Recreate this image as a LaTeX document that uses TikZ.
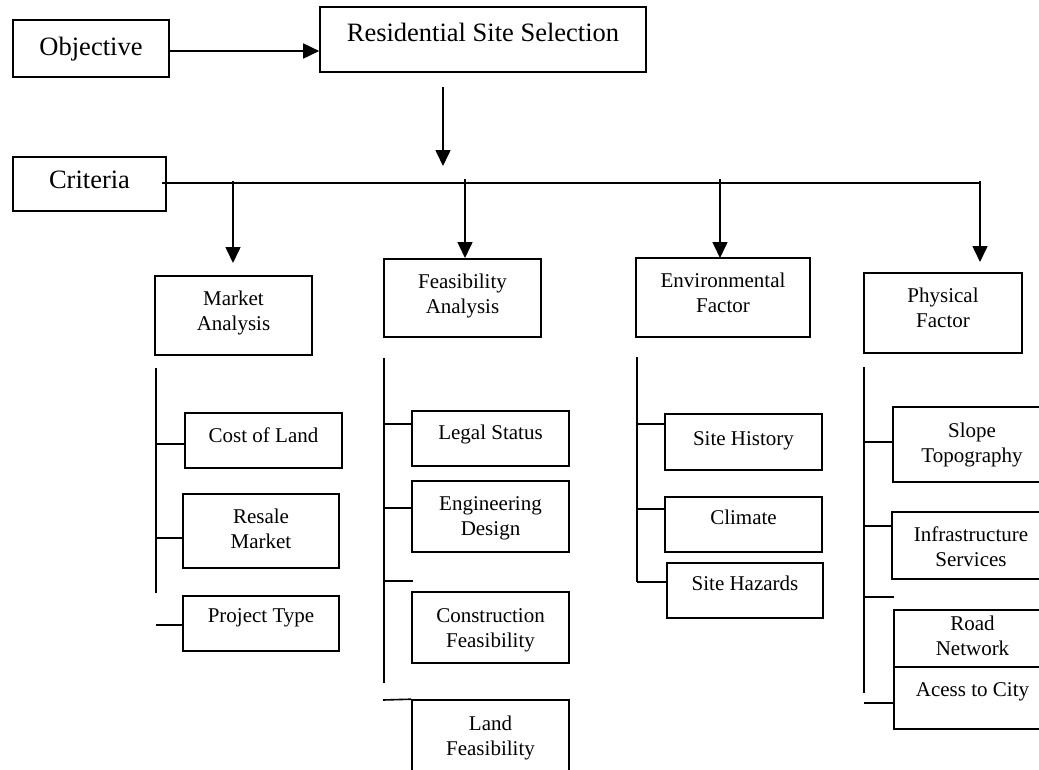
\documentclass[tikz,border=0pt]{standalone}
\usepackage{fontspec}
\setmainfont{Liberation Serif}
\usetikzlibrary{arrows.meta}
\newcommand\mkbox[8]{%
  \node[#1, minimum width={(#5-#3)*1pt}, minimum height={(#6-#4)*1pt},
        label={[#1txt, yshift=-#7pt]north:{#8}}] (#2) at ({(#3+#5)/2},{(#4+#6)/2}) {};}
\begin{document}
\begin{tikzpicture}[x=1pt,y=-1pt,
  small/.style={draw, line width=1.6pt, inner sep=0pt, fill=white},
  big/.style={draw, line width=1.6pt, inner sep=0pt, fill=white},
  smalltxt/.style={anchor=north, inner sep=0pt, align=center, font=\fontsize{21}{25}\selectfont},
  bigtxt/.style={anchor=north, inner sep=0pt, align=center, font=\fontsize{26.5}{31}\selectfont},
  conn/.style={line width=1.6pt},
  arr/.style={line width=1.6pt, -{Triangle[length=16pt,width=15pt]}}]
\useasboundingbox (0,0) rectangle (1039,769);
\clip (0,0) rectangle (1039,769);
\fill[white] (0,0) rectangle (1039,769);

% top level
\mkbox{big}{obj}{13}{20}{169}{77}{18}{Objective}
\mkbox{big}{rss}{320}{7}{646}{72}{17}{Residential Site Selection}
\mkbox{big}{crit}{13}{157}{166}{211}{15}{Criteria}

% criteria boxes
\mkbox{small}{market}{155}{276}{312}{355}{16}{Market\\Analysis}
\mkbox{small}{feas}{384}{259}{541}{337}{16}{Feasibility\\Analysis}
\mkbox{small}{env}{636}{258}{810}{337}{16}{Environmental\\Factor}
\mkbox{small}{phys}{864}{273}{1022}{353}{16}{Physical\\Factor}

% market analysis
\mkbox{small}{cost}{185}{413}{342}{468}{15}{Cost of Land}
\mkbox{small}{resale}{183}{494}{339}{568}{16}{Resale\\Market}
\mkbox{small}{ptype}{183}{596}{339}{651}{13}{Project Type}

% feasibility analysis
\mkbox{small}{legal}{412}{411}{569}{466}{15}{Legal Status}
\mkbox{small}{eng}{412}{481}{569}{552}{16}{Engineering\\Design}
\mkbox{small}{constr}{412}{592}{569}{663}{17}{Construction\\Feasibility}
\mkbox{small}{land}{412}{700}{569}{774}{17}{Land\\Feasibility}

% environmental factor
\mkbox{small}{sitehist}{665}{414}{822}{470}{18}{Site History}
\mkbox{small}{climate}{665}{497}{822}{552}{14}{Climate}
\mkbox{small}{hazards}{667}{563}{823}{618}{14}{Site Hazards}

% physical factor
\mkbox{small}{slope}{893}{407}{1051}{482}{17}{Slope\\Topography}
\mkbox{small}{infra}{892}{512}{1050}{579}{15}{Infrastructure\\Services}
\mkbox{small}{road}{894}{610}{1051}{690}{7}{Road\\Network}
\mkbox{small}{acess}{894}{667}{1051}{729}{16}{Acess to City}

% objective -> residential site selection
\coordinate (ya) at (0,51);
\draw[arr] (obj.east |- ya) -- (rss.west |- ya);

% residential site selection -> criteria
\coordinate (d1) at (443,87);
\coordinate (d2) at (443,166);
\draw[arr] (d1) -- (d2);

% criteria bus
\coordinate (bus0) at (162,183);
\coordinate (busend) at (980,183);
\draw[conn] (bus0) -- (busend);
\coordinate (b1) at (233,181); \coordinate (t1) at (233,263);
\coordinate (b2) at (465,179); \coordinate (t2) at (465,258);
\coordinate (b3) at (720,179); \coordinate (t3) at (720,258);
\coordinate (b4) at (980,181); \coordinate (t4) at (980,262);
\draw[arr] (b1) -- (t1);
\draw[arr] (b2) -- (t2);
\draw[arr] (b3) -- (t3);
\draw[arr] (b4) -- (t4);

% market branches
\coordinate (mv0) at (156,368); \coordinate (mv1) at (156,593);
\draw[conn] (mv0) -- (mv1);
\coordinate (mb1) at (156,444); \draw[conn] (mb1) -- (cost.west |- mb1);
\coordinate (mb2) at (156,538); \draw[conn] (mb2) -- (resale.west |- mb2);
\coordinate (mb3) at (156,625); \draw[conn] (mb3) -- (ptype.west |- mb3);

% feasibility branches
\coordinate (fv0) at (384,358); \coordinate (fv1) at (384,683);
\draw[conn] (fv0) -- (fv1);
\coordinate (fb1) at (384,424); \draw[conn] (fb1) -- (legal.west |- fb1);
\coordinate (fb2) at (384,508); \draw[conn] (fb2) -- (eng.west |- fb2);
\coordinate (fb3) at (384,581); \coordinate (fb3e) at (413,581);
\draw[conn] (fb3) -- (fb3e);
\coordinate (fb4) at (383,700); \draw[conn] (fb4) -- (land.north west);

% environmental branches
\coordinate (ev0) at (637,357); \coordinate (ev1) at (637,582);
\draw[conn] (ev0) -- (ev1);
\coordinate (eb1) at (637,424); \draw[conn] (eb1) -- (sitehist.west |- eb1);
\coordinate (eb2) at (637,509); \draw[conn] (eb2) -- (climate.west |- eb2);
\draw[conn] (ev1) -- (hazards.west |- ev1);

% physical branches
\coordinate (pv0) at (864,367); \coordinate (pv1) at (864,693);
\draw[conn] (pv0) -- (pv1);
\coordinate (pb1) at (864,442); \draw[conn] (pb1) -- (slope.west |- pb1);
\coordinate (pb2) at (864,526); \draw[conn] (pb2) -- (infra.west |- pb2);
\coordinate (pb3) at (864,597); \coordinate (pb3e) at (894,597);
\draw[conn] (pb3) -- (pb3e);
\coordinate (pb4) at (864,703); \draw[conn] (pb4) -- (acess.west |- pb4);
\end{tikzpicture}
\end{document}
